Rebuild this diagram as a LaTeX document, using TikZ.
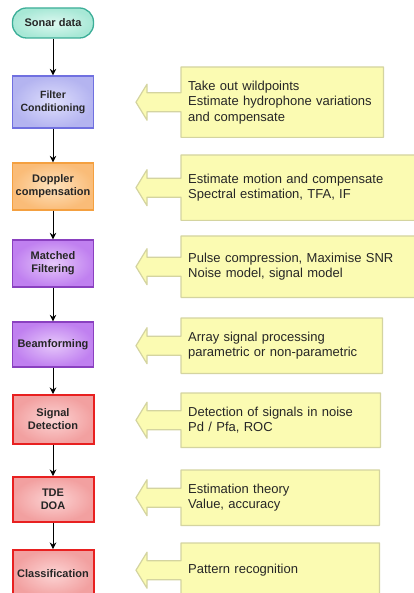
\documentclass[tikz,border=0pt]{standalone}
\usepackage{fontspec}
\setmainfont{Liberation Sans}
\usetikzlibrary{arrows.meta}
\pgfdeclarelayer{bg}
\pgfsetlayers{bg,main}
\definecolor{cfill}{RGB}{251,251,178}
\definecolor{cline}{RGB}{212,212,160}
\definecolor{tealline}{RGB}{60,174,152}
\definecolor{tealin}{RGB}{220,248,240}
\definecolor{tealout}{RGB}{168,232,214}
\definecolor{blueline}{RGB}{112,112,224}
\definecolor{bluein}{RGB}{222,222,252}
\definecolor{blueout}{RGB}{180,180,240}
\definecolor{orline}{RGB}{244,160,64}
\definecolor{orin}{RGB}{253,226,190}
\definecolor{orout}{RGB}{250,188,120}
\definecolor{puline}{RGB}{138,64,192}
\definecolor{puin}{RGB}{230,200,250}
\definecolor{puout}{RGB}{192,128,240}
\definecolor{redline}{RGB}{232,32,32}
\definecolor{redin}{RGB}{252,212,212}
\definecolor{redout}{RGB}{242,160,160}
\newcommand\mycallout[1]{%
  \draw[callshape] (#1.north west) -- (#1.north east) -- (#1.south east) -- (#1.south west)
    -- ([yshift=-9.5pt]#1.west) -- ([xshift=-34pt,yshift=-9.5pt]#1.west)
    -- ([xshift=-34pt,yshift=-18pt]#1.west) -- ([xshift=-45pt]#1.west)
    -- ([xshift=-34pt,yshift=18pt]#1.west) -- ([xshift=-34pt,yshift=9.5pt]#1.west)
    -- ([yshift=9.5pt]#1.west) -- cycle;}
\begin{document}
\begin{tikzpicture}[x=1pt,y=-1pt,
  proc/.style={draw, line width=1.3pt, minimum width=81pt, inner sep=0pt, align=center,
    font=\bfseries\fontsize{11}{13}\selectfont, text=black!85},
  teal/.style={proc, draw=tealline, inner color=tealin, outer color=tealout, rounded corners=14pt},
  bluebox/.style={proc, draw=blueline, inner color=bluein, outer color=blueout},
  orbox/.style={proc, draw=orline, inner color=orin, outer color=orout},
  pubox/.style={proc, draw=puline, inner color=puin, outer color=puout},
  redbox/.style={proc, draw=redline, line width=2pt, inner color=redin, outer color=redout},
  cbox/.style={anchor=north west, inner xsep=7pt, inner ysep=0pt, align=left,
    font=\fontsize{13}{15.5}\selectfont, text=black!85},
  callshape/.style={fill=cfill, draw=cline, line width=1.2pt, line join=round},
  flow/.style={draw=black, line width=0.8pt, -{Stealth[length=6.5pt,width=6.5pt]}}
]
\useasboundingbox (0,0) rectangle (414,593);
\clip (0,0) rectangle (414,593);

% process column
\node[teal, minimum height=30pt] (sonar) at (53,23) {Sonar data};
\node[bluebox, minimum height=52pt, font=\bfseries\fontsize{10.5}{13}\selectfont] (filter) at (53,102) {Filter\\Conditioning};
\node[orbox, minimum height=47pt] (doppler) at (53,186.5) {Doppler\\compensation};
\node[pubox, minimum height=47pt] (matched) at (53,263.5) {Matched\\Filtering};
\node[pubox, minimum height=45pt] (beam) at (53,344.5) {Beamforming};
\node[redbox, minimum height=49pt] (detect) at (53,419.5) {Signal\\Detection};
\node[redbox, minimum height=45pt] (tde) at (53,499.5) {TDE\\DOA};
\node[redbox, minimum height=48pt] (class) at (53,574) {Classification};

\draw[flow] (sonar) -- (filter);
\draw[flow] (filter) -- (doppler);
\draw[flow] (doppler) -- (matched);
\draw[flow] (matched) -- (beam);
\draw[flow] (beam) -- (detect);
\draw[flow] (detect) -- (tde);
\draw[flow] (tde) -- (class);

% callouts
\node[cbox, minimum width=202pt, text width=188pt, minimum height=70pt] (c1) at (181,67)
  {Take out wildpoints\\Estimate hydrophone variations\\and compensate};
\node[cbox, minimum width=236pt, text width=222pt, minimum height=65pt] (c2) at (181,155)
  {Estimate motion and compensate\\Spectral estimation, TFA, IF};
\node[cbox, minimum width=236pt, text width=222pt, minimum height=61pt] (c3) at (181,236)
  {Pulse compression, Maximise SNR\\Noise model, signal model};
\node[cbox, minimum width=201pt, text width=187pt, minimum height=55pt] (c4) at (181,318)
  {Array signal processing\\parametric or non-parametric};
\node[cbox, minimum width=199pt, text width=185pt, minimum height=54pt] (c5) at (181,393)
  {Detection of signals in noise\\Pd / Pfa, ROC};
\node[cbox, minimum width=198pt, text width=184pt, minimum height=55pt] (c6) at (181,470)
  {Estimation theory\\Value, accuracy};
\node[cbox, minimum width=198pt, text width=184pt, minimum height=54pt] (c7) at (181,543)
  {Pattern recognition};

\begin{pgfonlayer}{bg}
\fill[white] (0,0) rectangle (414,593);
\begin{scope}
\clip (0,0) rectangle (414,593);
\mycallout{c1}
\mycallout{c2}
\mycallout{c3}
\mycallout{c4}
\mycallout{c5}
\mycallout{c6}
\mycallout{c7}
\end{scope}
\end{pgfonlayer}
\end{tikzpicture}
\end{document}
